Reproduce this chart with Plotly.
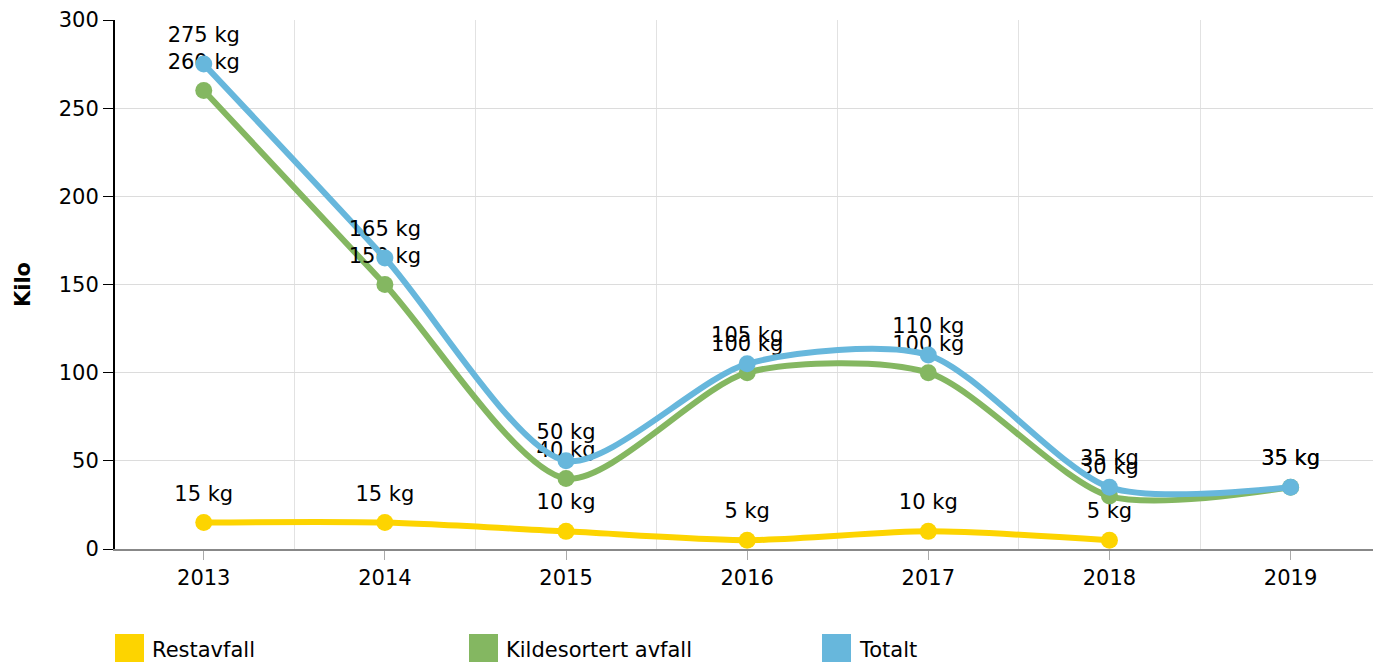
import plotly.graph_objects as go

years = [2013, 2014, 2015, 2016, 2017, 2018, 2019]
restavfall = [15, 15, 10, 5, 10, 5, None]
kildesortert = [260, 150, 40, 100, 100, 30, 35]
totalt = [275, 165, 50, 105, 110, 35, 35]

series = [
    ("Restavfall", restavfall, "#fdd400"),
    ("Kildesortert avfall", kildesortert, "#84b761"),
    ("Totalt", totalt, "#67b7dc"),
]

FONT = "DejaVu Sans"
FIG_W, FIG_H = 1373, 662
M_L, M_T, M_B = 115, 20, 113
PLOT_W = FIG_W - M_L
PLOT_H = FIG_H - M_T - M_B

fig = go.Figure()
for name, values, color in series:
    fig.add_trace(go.Scatter(
        x=years, y=values, mode="lines+markers", name=name,
        line=dict(color=color, width=6, shape="spline", smoothing=0.75),
        marker=dict(color=color, size=17),
        showlegend=False,
    ))
    # value labels; the invisible bigger marker pushes the text a bit higher
    fig.add_trace(go.Scatter(
        x=years, y=values, mode="markers+text", name=name,
        marker=dict(size=25, opacity=0),
        text=[f"{v} kg" if v is not None else "" for v in values],
        textposition="top center",
        textfont=dict(family=FONT, size=21, color="#000000"),
        hoverinfo="skip", showlegend=False,
    ))

# legend drawn by hand: big square swatches spaced across the bottom
legend_x = [0, 354, 707]
for (name, values, color), px in zip(series, legend_x):
    fig.add_shape(type="rect", xref="paper", yref="paper",
                  x0=px / PLOT_W, x1=(px + 29) / PLOT_W,
                  y0=-85 / PLOT_H, y1=-115 / PLOT_H,
                  fillcolor=color, line_width=0)
    fig.add_annotation(text=name, xref="paper", yref="paper",
                       x=(px + 35) / PLOT_W, y=-101 / PLOT_H,
                       xanchor="left", yanchor="middle", showarrow=False,
                       font=dict(family=FONT, size=21, color="#000000"))

fig.update_layout(
    width=FIG_W, height=FIG_H,
    plot_bgcolor="white", paper_bgcolor="white",
    font=dict(family=FONT, size=21, color="#000000"),
    margin=dict(l=M_L, r=0, t=M_T, b=M_B),
    showlegend=False,
)
fig.update_xaxes(
    range=[2012.51, 2019.455], tickvals=years, ticktext=[str(y) for y in years],
    showgrid=False, showline=True, linecolor="#888888", linewidth=2,
    ticks="outside", ticklen=9, tickcolor="#aaaaaa",
    minor=dict(tick0=2012.5, dtick=1, showgrid=True, gridcolor="#e2e2e2", ticklen=0),
    zeroline=False, automargin=False,
)
fig.update_yaxes(
    range=[0, 300], dtick=50, showgrid=True, gridcolor="#dcdcdc",
    showline=True, linecolor="#000000", linewidth=2,
    ticks="outside", ticklen=10, tickcolor="#000000",
    zeroline=False, automargin=False,
    title=dict(text="<b>Kilo</b>", standoff=22, font=dict(family=FONT, size=21)),
)

# drop the default page margin so the figure sits at the window's corner
fig.write_html("out.html", config={"displayModeBar": False},
               post_script="document.body.style.margin='0';"
                           "document.body.style.overflow='hidden';")
